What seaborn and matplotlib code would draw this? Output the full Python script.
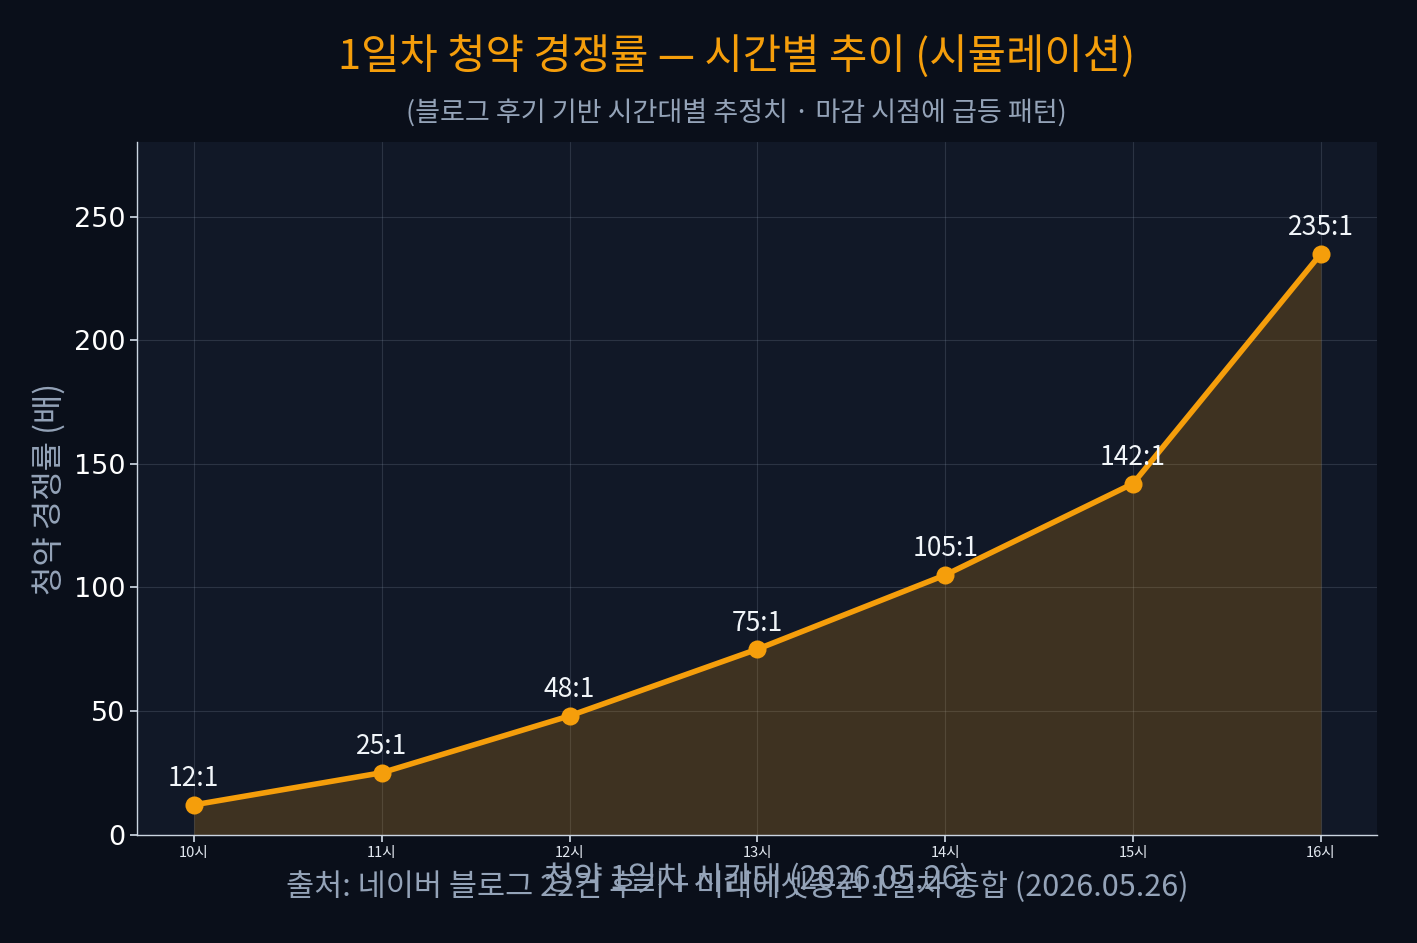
import numpy as np
import pandas as pd
import matplotlib
matplotlib.use('Agg')
import matplotlib.pyplot as plt
import seaborn as sns

# data
hours = ["10시", "11시", "12시", "13시", "14시", "15시", "16시"]
ratios = [12, 25, 48, 75, 105, 142, 235]
labels = ["12:1", "25:1", "48:1", "75:1", "105:1", "142:1", "235:1"]

df = pd.DataFrame({'hour': hours, 'ratio': ratios, 'pos': range(len(hours))})

sns.set_theme(style="dark")
plt.rcParams['font.family'] = ['DejaVu Sans', 'Noto Sans CJK KR']
plt.rcParams['axes.unicode_minus'] = False
kr = ['Noto Sans CJK KR', 'DejaVu Sans']

bg = '#0a0f1a'
panel = '#111827'
orange = '#f59e0b'
gray = '#94a3b8'

fig, ax = plt.subplots(figsize=(14.17, 9.43), dpi=100)
fig.patch.set_facecolor(bg)
ax.set_facecolor(panel)
fig.subplots_adjust(left=0.097, right=0.972, top=0.849, bottom=0.115)

ax.fill_between(df['pos'], df['ratio'], 0, color=orange, alpha=0.2, linewidth=0, zorder=1)
sns.lineplot(data=df, x='pos', y='ratio', ax=ax, color=orange, linewidth=4,
             marker='o', markersize=13, markeredgewidth=0, zorder=3)

for x, y, t in zip(df['pos'], df['ratio'], labels):
    ax.annotate(t, (x, y), xytext=(0, 9), textcoords='offset points',
                ha='center', va='bottom', color='#f1f5f9', fontsize=19,
                family=kr, fontweight='light')

ax.set_xlim(-0.3, 6.3)
ax.set_ylim(0, 280)
ax.set_xticks(df['pos'])
ax.set_xticklabels(hours, fontsize=10.5, color='#e2e8f0', family=kr)
ax.set_yticks([0, 50, 100, 150, 200, 250])
ax.tick_params(axis='y', labelsize=19.5, labelcolor='white', colors='#cbd5e1', length=5, left=True)
ax.tick_params(axis='x', colors='#cbd5e1', labelcolor='#e2e8f0', length=5, bottom=True)

ax.grid(True, color='#94a3b8', alpha=0.2, linewidth=0.8)
for s in ['top', 'right']:
    ax.spines[s].set_visible(False)
for s in ['left', 'bottom']:
    ax.spines[s].set_visible(True)
    ax.spines[s].set_color('#cbd5e1')
    ax.spines[s].set_linewidth(1)

ax.set_ylabel("청약 경쟁률 (배)", fontsize=23, color=gray, labelpad=6,
              family=kr, fontweight='light')
ax.set_xlabel("청약 1일차 시간대 (2026.05.26)", fontsize=23, color=gray, labelpad=2,
              family=kr, fontweight='light')

fig.text(0.52, 0.94, "1일차 청약 경쟁률 — 시간별 추이 (시뮬레이션)", ha='center', va='center',
         fontsize=30, color=orange, family=kr, fontweight='light')
fig.text(0.52, 0.879, "(블로그 후기 기반 시간대별 추정치 · 마감 시점에 급등 패턴)", ha='center', va='center',
         fontsize=19.5, color=gray, family=kr, fontweight='light')
fig.text(0.52, 0.059, "출처: 네이버 블로그 22건 후기 + 미래에셋증권 1일차 종합 (2026.05.26)", ha='center',
         va='center', fontsize=22, color=gray, family=kr, fontweight='light')

plt.savefig("out.png", dpi=100, facecolor=bg)
